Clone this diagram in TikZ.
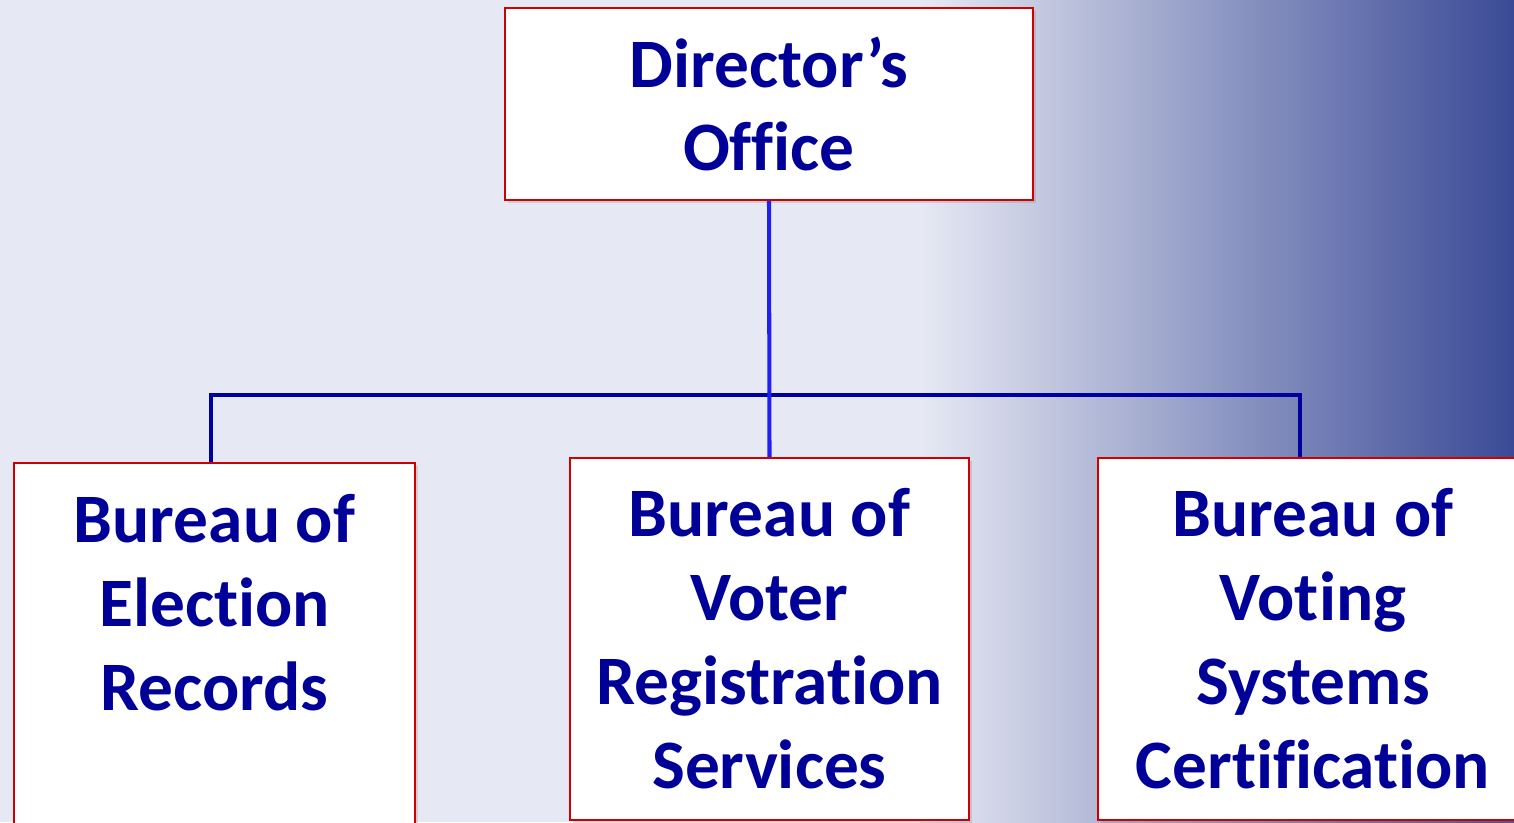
\documentclass[tikz,border=0pt]{standalone}
\usepackage{fontspec}
\setmainfont{Carlito}[Ligatures={NoCommon,NoContextual}]
\usetikzlibrary{shadows}

\definecolor{boxred}{RGB}{208,0,0}
\definecolor{textnavy}{RGB}{0,0,153}
\definecolor{linenavy}{RGB}{0,0,160}
\definecolor{linebright}{RGB}{32,32,240}
\definecolor{bgpale}{RGB}{230,233,243}
\definecolor{bgmid}{RGB}{140,155,208}
\definecolor{bgdeep}{RGB}{58,74,150}

\tikzset{
    office/.style={draw=boxred, line width=1.4pt, fill=white, align=center,
        text=textnavy, inner sep=0pt,
        font=\fontsize{39.5}{47.8}\selectfont\bfseries,
        drop shadow={opacity=0.25, shadow xshift=1.5pt, shadow yshift=-1.5pt}},
    tie/.style={line width=2.3pt, draw=linenavy}
}

\begin{document}
\begin{tikzpicture}[x=0.02cm, y=-0.02cm]
    \useasboundingbox (0,0) rectangle (1514,822);
    \clip (0,0) rectangle (1514,822);
    % background
    \fill[bgpale] (0,0) rectangle (1514,822);
    \shade[left color=bgpale, middle color=bgmid, right color=bgdeep] (920,0) rectangle (1514,822);

    % boxes
    \node[office, minimum width=10.56cm, minimum height=3.84cm] (dir) at (769,104) {Director’s\\ Office};
    \node[office, minimum width=8.02cm, minimum height=7.24cm] (ber) at (214.5,644) {Bureau of\\ Election\\ Records\\ \mbox{}};
    \node[office, minimum width=7.98cm, minimum height=7.24cm] (vrs) at (769.5,639) {Bureau of\\ Voter\\ Registration\\ Services};
    \node[office, minimum width=8.6cm, minimum height=7.24cm] (vsc) at (1313,639) {Bureau of\\ Voting\\ Systems\\ Certification};

    % connectors
    \coordinate (tl) at (211,395);
    \coordinate (tr) at (1300,395);
    \draw[tie] (ber.north -| tl) |- (tr) -- (tr |- vsc.north);
    \draw[tie, draw=linebright] (dir.south) -- (vrs.north);
\end{tikzpicture}
\end{document}
